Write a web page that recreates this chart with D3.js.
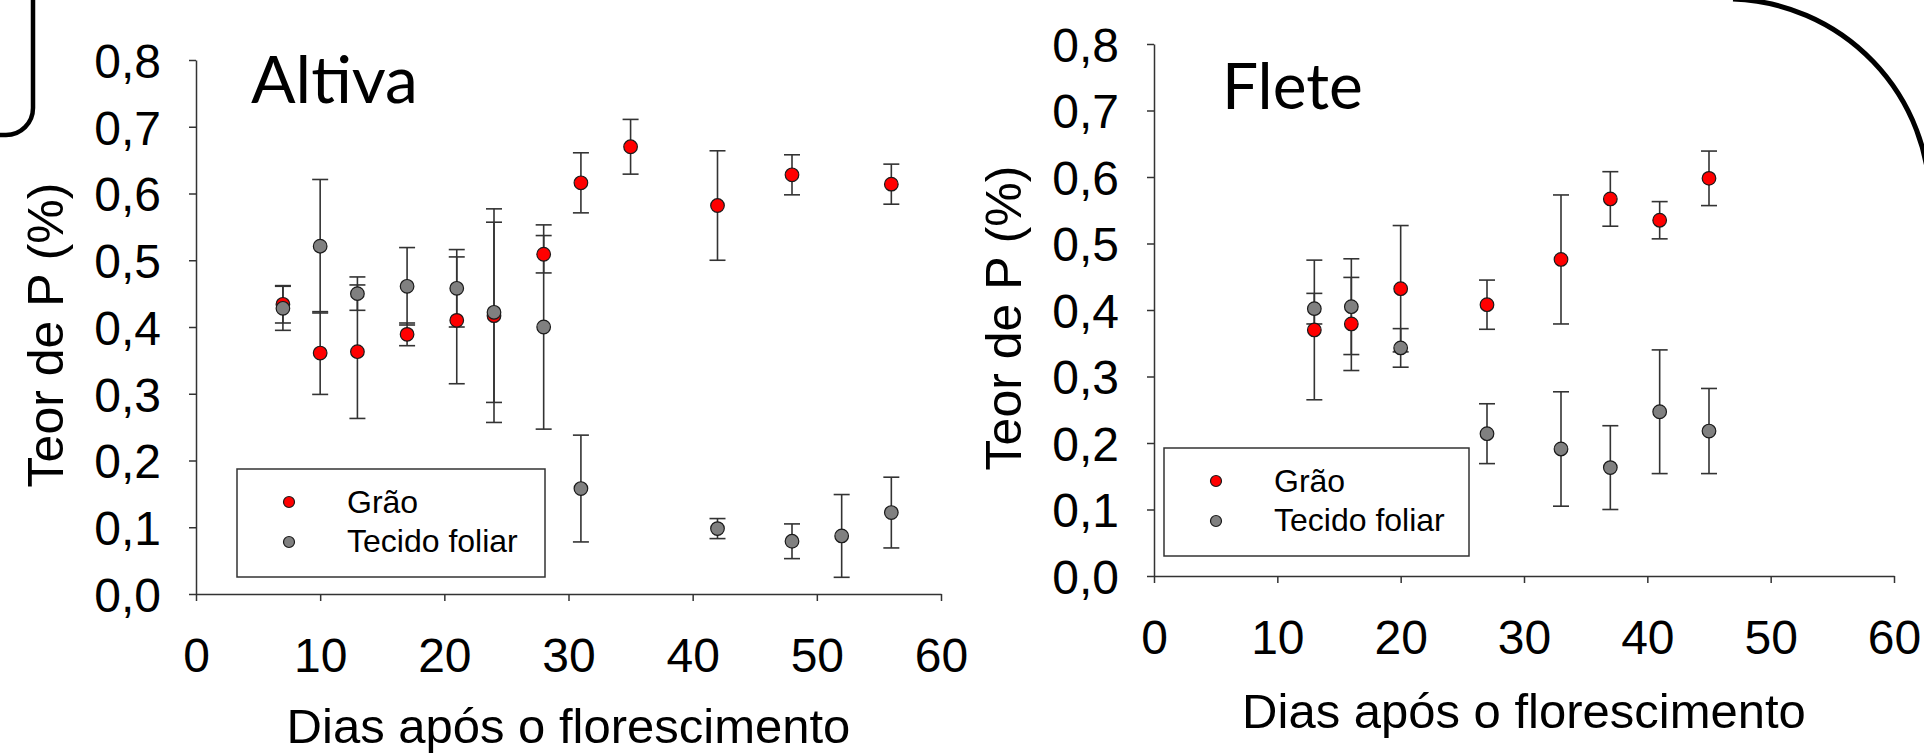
<!DOCTYPE html>
<html>
<head>
<meta charset="utf-8">
<script src="https://cdn.jsdelivr.net/npm/d3@7"></script>
<style>
  html, body { margin: 0; padding: 0; background: #fff; }
  svg { display: block; }
  .axis text { font-family: "Liberation Sans", Arial, sans-serif; fill: #000; }
  .axis path, .axis line { stroke: #333; stroke-width: 1.5; }
</style>
</head>
<body>
<svg id="chart" width="1924" height="754"></svg>
<script>
// ticks
const xTicks = [0, 10, 20, 30, 40, 50, 60];
const yTicks = [0, 0.1, 0.2, 0.3, 0.4, 0.5, 0.6, 0.7, 0.8];
const seriesNames = ['Grão', 'Tecido foliar'];
const seriesColors = ['#ff0000', '#808080'];

// Altiva
const altivaGraoDays = [7, 10, 13, 17, 21, 24, 28, 31, 35, 42, 48, 56];
const altivaGraoP = [0.434, 0.361, 0.363, 0.389, 0.410, 0.417, 0.509, 0.616, 0.670, 0.582, 0.628, 0.614];
const altivaGraoErr = [0.028, 0.062, 0.100, 0.017, 0.095, 0.160, 0.028, 0.045, 0.041, 0.082, 0.030, 0.030];
const altivaFoliarDays = [7, 10, 13, 17, 21, 24, 28, 31, 42, 48, 52, 56];
const altivaFoliarP = [0.428, 0.521, 0.450, 0.461, 0.458, 0.422, 0.400, 0.158, 0.098, 0.079, 0.087, 0.122];
const altivaFoliarErr = [0.033, 0.100, 0.025, 0.058, 0.058, 0.135, 0.153, 0.080, 0.015, 0.026, 0.062, 0.053];

// Flete
const fleteGraoDays = [13, 16, 20, 27, 33, 37, 41, 45];
const fleteGraoP = [0.370, 0.379, 0.432, 0.408, 0.476, 0.567, 0.535, 0.598];
const fleteGraoErr = [0.105, 0.070, 0.095, 0.037, 0.097, 0.041, 0.028, 0.041];
const fleteFoliarDays = [13, 16, 20, 27, 33, 37, 41, 45];
const fleteFoliarP = [0.402, 0.405, 0.343, 0.214, 0.191, 0.163, 0.247, 0.218];
const fleteFoliarErr = [0.023, 0.072, 0.029, 0.045, 0.086, 0.063, 0.093, 0.064];

function zip(days, vals, errs) {
  return days.map((d, i) => ({ day: d, p: vals[i], err: errs[i] }));
}

const panels = [
  {
    title: 'Altiva', x0: 196, x1: 941, y0: 594, y1: 60, titleDx: 55, titleY: 103, titleSize: 66,
    legend: { x: 237, y: 469, w: 308, h: 108 },
    series: [zip(altivaGraoDays, altivaGraoP, altivaGraoErr), zip(altivaFoliarDays, altivaFoliarP, altivaFoliarErr)]
  },
  {
    title: 'Flete', x0: 1154, x1: 1894, y0: 576, y1: 44, titleDx: 68, titleY: 109, titleSize: 64,
    legend: { x: 1164, y: 448, w: 305, h: 108 },
    series: [zip(fleteGraoDays, fleteGraoP, fleteGraoErr), zip(fleteFoliarDays, fleteFoliarP, fleteFoliarErr)]
  }
];

const svg = d3.select('#chart');
const fmt = d => d3.format('.1f')(d).replace('.', ',');

// slide decorations behind the charts
svg.append('path')
  .attr('d', 'M33,-5V108A27,27 0 0 1 6,135H-5')
  .attr('fill', 'none').attr('stroke', '#000').attr('stroke-width', 4.5);
svg.append('path')
  .attr('d', 'M1733,-1A204,204 0 0 1 1930,204V760')
  .attr('fill', 'none').attr('stroke', '#000').attr('stroke-width', 5);

panels.forEach(pn => {
  const x = d3.scaleLinear().domain([0, 60]).range([pn.x0, pn.x1]);
  const y = d3.scaleLinear().domain([0, 0.8]).range([pn.y0, pn.y1]);
  const g = svg.append('g');

  const yAxis = g.append('g')
    .attr('class', 'axis')
    .attr('transform', `translate(${pn.x0},0)`)
    .call(d3.axisLeft(y).tickValues(yTicks).tickFormat(fmt).tickSize(7).tickSizeOuter(0).tickPadding(28));
  yAxis.selectAll('text').attr('font-size', 48).attr('dy', '0.36em');

  const xAxis = g.append('g')
    .attr('class', 'axis')
    .attr('transform', `translate(0,${pn.y0})`)
    .call(d3.axisBottom(x).tickValues(xTicks).tickFormat(d3.format('d')).tickSize(7).tickSizeOuter(0).tickPadding(37));
  xAxis.selectAll('text').attr('font-size', 48);

  g.append('text')
    .attr('transform', `translate(${pn.x0 - 133},${(pn.y0 + pn.y1) / 2 + 8}) rotate(-90)`)
    .attr('text-anchor', 'middle')
    .attr('font-family', '"Liberation Sans", Arial, sans-serif')
    .attr('font-size', 50)
    .text('Teor de P (%)');

  g.append('text')
    .attr('x', (pn.x0 + pn.x1) / 2)
    .attr('y', Math.min(pn.y0 + 152, 743))
    .attr('text-anchor', 'middle')
    .attr('font-family', '"Liberation Sans", Arial, sans-serif')
    .attr('font-size', 49)
    .text('Dias após o florescimento');

  g.append('text')
    .attr('x', pn.x0 + pn.titleDx)
    .attr('y', pn.titleY)
    .attr('font-family', 'Lato, "Open Sans", sans-serif')
    .attr('font-size', pn.titleSize)
    .text(pn.title);

  // error bars first, then markers
  pn.series.forEach(s => {
    const eb = g.append('g').attr('stroke', '#333').attr('stroke-width', 1.6);
    s.forEach(d => {
      eb.append('line')
        .attr('x1', x(d.day)).attr('x2', x(d.day))
        .attr('y1', y(d.p - d.err)).attr('y2', y(d.p + d.err));
      [d.p - d.err, d.p + d.err].forEach(v => {
        eb.append('line')
          .attr('x1', x(d.day) - 8).attr('x2', x(d.day) + 8)
          .attr('y1', y(v)).attr('y2', y(v));
      });
    });
  });

  pn.series.forEach((s, si) => {
    g.append('g').selectAll('circle')
      .data(s)
      .join('circle')
      .attr('cx', d => x(d.day))
      .attr('cy', d => y(d.p))
      .attr('r', 6.8)
      .attr('fill', seriesColors[si])
      .attr('stroke', '#1a1a1a')
      .attr('stroke-width', 1.2);
  });

  // legend
  const lg = g.append('g').attr('transform', `translate(${pn.legend.x},${pn.legend.y})`);
  lg.append('rect')
    .attr('width', pn.legend.w).attr('height', pn.legend.h)
    .attr('fill', '#fff').attr('stroke', '#333').attr('stroke-width', 1.5);
  seriesNames.forEach((name, i) => {
    lg.append('circle')
      .attr('cx', 52).attr('cy', 33 + i * 40).attr('r', 5.5)
      .attr('fill', seriesColors[i]).attr('stroke', '#1a1a1a').attr('stroke-width', 1.2);
    lg.append('text')
      .attr('x', 110).attr('y', 44 + i * 39)
      .attr('font-family', '"Liberation Sans", Arial, sans-serif')
      .attr('font-size', 32)
      .text(name);
  });
});
</script>
</body>
</html>
